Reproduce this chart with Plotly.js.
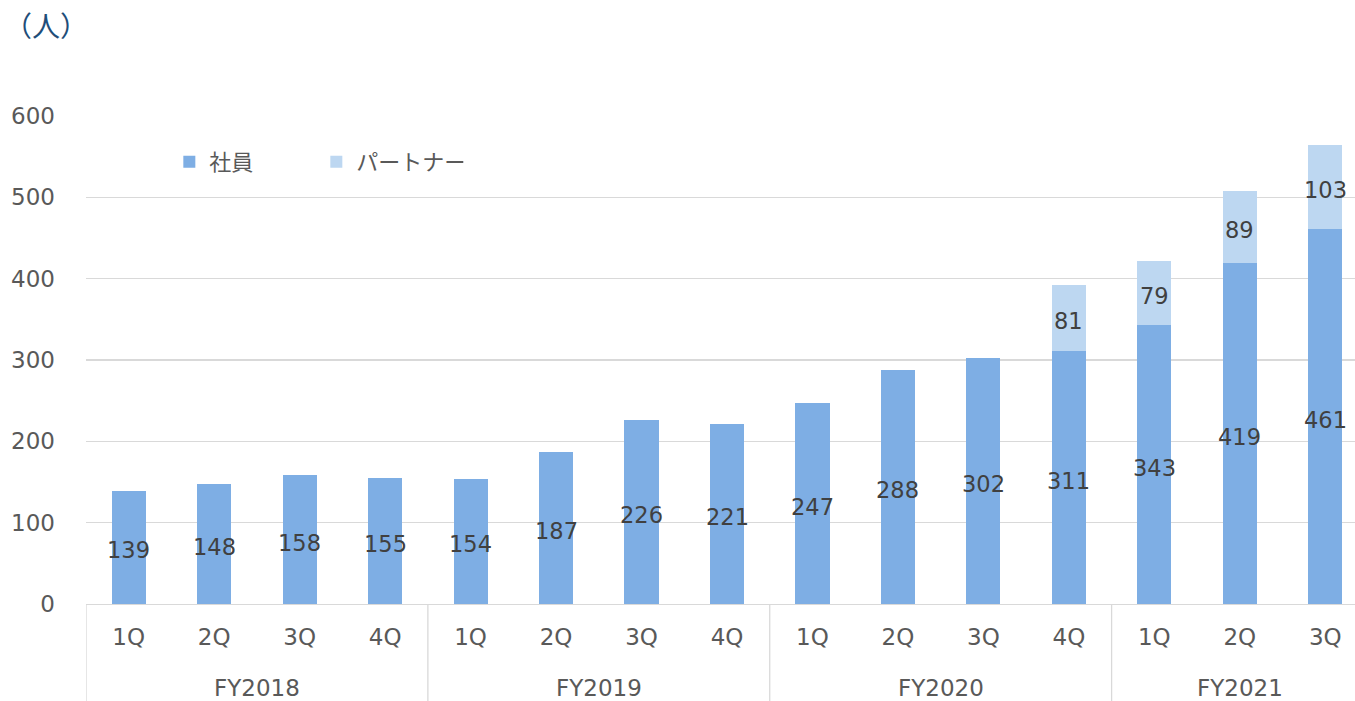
<!DOCTYPE html>
<html><head><meta charset="utf-8">
<script src="https://cdn.plot.ly/plotly-3.0.1.min.js"></script>
<style>html,body{margin:0;padding:0;overflow:hidden;background:#fff}#c{width:1370px;height:701px}</style>
</head><body><div id="c"></div>
<script>
const fiscalYears = ["FY2018","FY2018","FY2018","FY2018","FY2019","FY2019","FY2019","FY2019","FY2020","FY2020","FY2020","FY2020","FY2021","FY2021","FY2021"];
const quarters = ["1Q","2Q","3Q","4Q","1Q","2Q","3Q","4Q","1Q","2Q","3Q","4Q","1Q","2Q","3Q"];
const employees = [139,148,158,155,154,187,226,221,247,288,302,311,343,419,461];
const partners = [null,null,null,null,null,null,null,null,null,null,null,81,79,89,103];
const yTicks = [0,100,200,300,400,500,600];

const font = "DejaVu Sans, 'Noto Sans CJK JP', sans-serif";
const cats = fiscalYears.map((fy, i) => fy + ' ' + quarters[i]);

// group boundaries for FY labels and dividers
const groups = [];
fiscalYears.forEach((fy, i) => {
  if (!groups.length || groups[groups.length-1].name !== fy) groups.push({name: fy, start: i, end: i});
  else groups[groups.length-1].end = i;
});
const annotations = groups.map(g => ({
  x: (g.start + g.end) / 2, xref: 'x', y: 0, yref: 'paper', yshift: -84, yanchor: 'middle',
  text: g.name, showarrow: false, font: {family: font, size: 23, color: '#595959'}
}));
annotations.push({text:'（人）', xref:'paper', yref:'paper', x:0, xshift:-84, y:1, yshift:91, xanchor:'left', yanchor:'middle', showarrow:false,
  font:{family:"'Noto Sans CJK JP', sans-serif", size:28, color:'#1F4E79'}});

// data labels, centred in each stacked segment
const labelFont = {family:font, size:22.5, color:'#404040'};
employees.forEach((v, i) => {
  annotations.push({x:cats[i], xref:'x', y:v/2, yref:'y', yshift:-3, yanchor:'middle', showarrow:false, text:String(v), font:labelFont});
  const p = partners[i];
  if (p != null) annotations.push({x:cats[i], xref:'x', y:v + p/2, yref:'y', yshift:-3, yanchor:'middle', showarrow:false, text:String(p), font:labelFont});
});

const shapes = [];
groups.forEach((g, k) => {
  if (k === 0) shapes.push({type:'line', xref:'x', yref:'paper', x0:g.start-0.5, x1:g.start-0.5, y0:0, y1:-0.25, line:{color:'#D9D9D9', width:1.3}});
  shapes.push({type:'line', xref:'x', yref:'paper', x0:g.end+0.5, x1:g.end+0.5, y0:0, y1:-0.25, line:{color:'#D9D9D9', width:1.3}});
});

const data = [
  {type:'bar', name:'社員', x:cats, y:employees, marker:{color:'#7EAEE4'}, hoverinfo:'none'},
  {type:'bar', name:'パートナー', x:cats, y:partners, marker:{color:'#BDD7F1'}, hoverinfo:'none'}
];
const layout = {
  width:1370, height:701,
  margin:{l:86, r:2, t:116, b:97},
  barmode:'stack', bargap:0.6,
  paper_bgcolor:'#fff', plot_bgcolor:'#fff',
  font:{family:font, color:'#595959', size:22},
  xaxis:{type:'category', tickvals:cats, ticktext:quarters, range:[-0.5, cats.length-0.5],
    showline:true, linecolor:'#D9D9D9', linewidth:1.3, tickfont:{size:23, color:'#595959'}, showgrid:false, zeroline:false,
    ticks:'', ticklabelstandoff:12},
  yaxis:{range:[0,600], tickvals:yTicks, showgrid:true, gridcolor:'#D9D9D9', gridwidth:1.3, zeroline:false,
    showline:false, tickfont:{size:23, color:'#595959'}, ticks:'', ticklabelstandoff:30},
  legend:{orientation:'h', traceorder:'normal', x:0.065, y:0.906, xanchor:'left', yanchor:'middle', font:{size:22, color:'#595959'},
    entrywidth:102, itemwidth:30, bgcolor:'rgba(0,0,0,0)'},
  annotations, shapes,
  showlegend:true
};
Plotly.newPlot('c', data, layout, {staticPlot:true, displayModeBar:false});
</script></body></html>
